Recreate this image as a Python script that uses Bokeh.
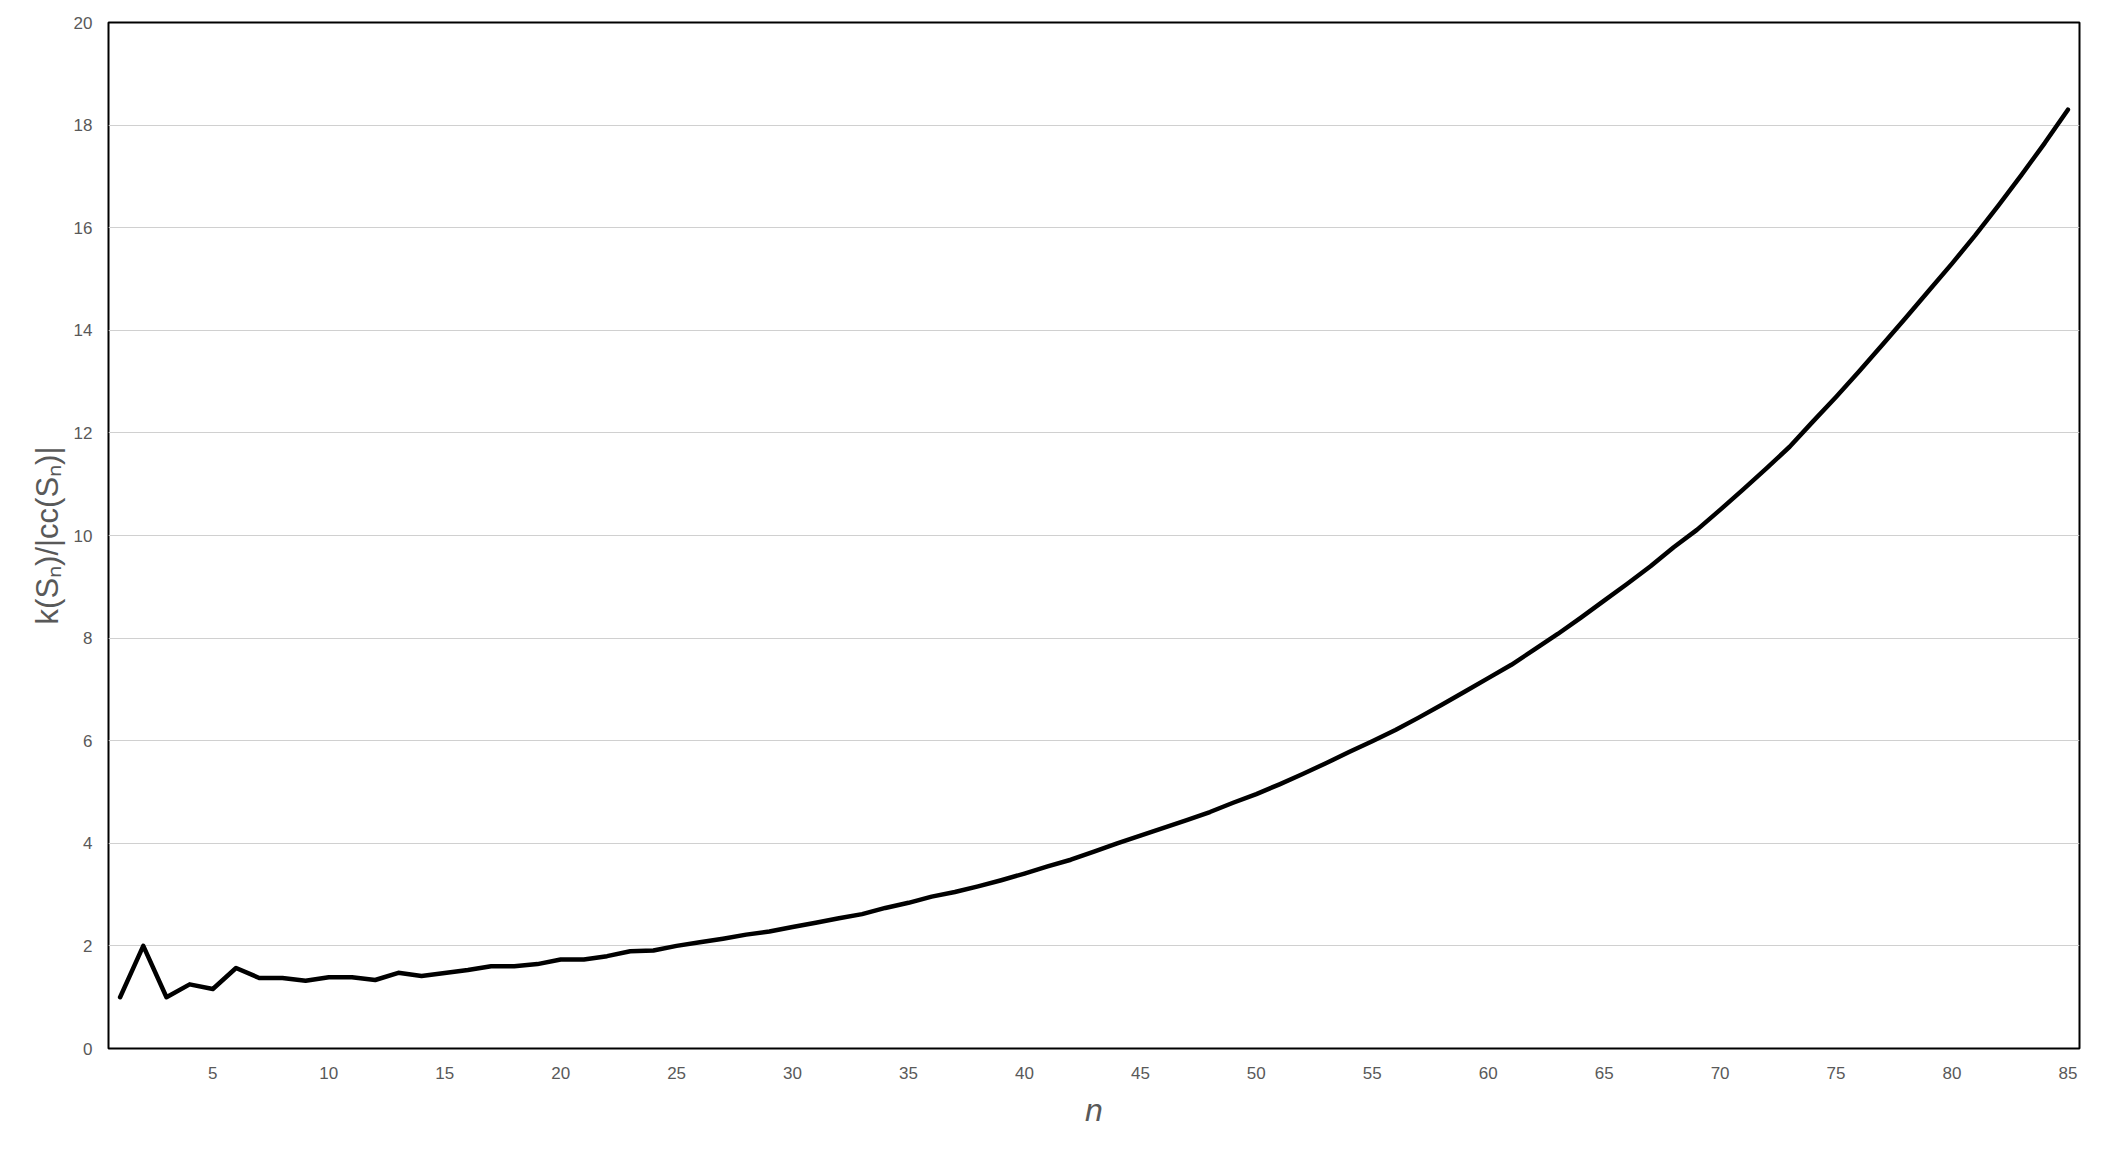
from bokeh.plotting import figure
from bokeh.models import FixedTicker, ColumnDataSource
from bokeh.embed import file_html
from bokeh.resources import INLINE

# n values (category positions 1..85)
n_values = list(range(1, 86))

# k(S_n)/|cc(S_n)|
ratio = [
    1.00, 2.00, 1.00, 1.25, 1.16, 1.57, 1.375, 1.375, 1.32, 1.39,
    1.39, 1.335, 1.475, 1.415, 1.47, 1.53, 1.605, 1.605, 1.645, 1.735,
    1.735, 1.80, 1.895, 1.91, 2.00, 2.07, 2.14, 2.22, 2.28, 2.37,
    2.45, 2.54, 2.62, 2.74, 2.84, 2.96, 3.05, 3.16, 3.28, 3.41,
    3.55, 3.68, 3.84, 4.00, 4.15, 4.30, 4.45, 4.61, 4.79, 4.96,
    5.15, 5.35, 5.56, 5.78, 5.99, 6.21, 6.45, 6.70, 6.96, 7.22,
    7.48, 7.78, 8.08, 8.40, 8.73, 9.06, 9.40, 9.77, 10.11, 10.50,
    10.90, 11.31, 11.73, 12.22, 12.70, 13.20, 13.72, 14.24, 14.77, 15.30,
    15.85, 16.43, 17.03, 17.65, 18.30,
]

x_ticks = [5, 10, 15, 20, 25, 30, 35, 40, 45, 50, 55, 60, 65, 70, 75, 80, 85]
y_ticks = [0, 2, 4, 6, 8, 10, 12, 14, 16, 18, 20]

source = ColumnDataSource(data=dict(n=n_values, r=ratio))

p = figure(
    width=2094, height=1148,
    x_range=(0.5, 85.5), y_range=(0, 20),
    output_backend="svg", toolbar_location=None,
    min_border_left=108, min_border_right=15,
    min_border_top=22, min_border_bottom=100,
)
p.background_fill_color = "white"
p.border_fill_color = "white"
p.outline_line_color = "black"
p.outline_line_width = 2

p.line("n", "r", source=source, line_color="black", line_width=4.5,
       line_join="round", line_cap="round")

tick_font = "Liberation Sans"
label_color = "#595959"

p.xaxis.ticker = FixedTicker(ticks=x_ticks)
p.yaxis.ticker = FixedTicker(ticks=y_ticks)
for ax in (p.xaxis, p.yaxis):
    ax.axis_line_color = None
    ax.major_tick_line_color = None
    ax.minor_tick_line_color = None
    ax.major_tick_out = 0
    ax.major_tick_in = 0
    ax.minor_tick_out = 0
    ax.major_label_text_font = tick_font
    ax.major_label_text_font_size = "17px"
    ax.major_label_text_color = label_color
    ax.axis_label_text_font = tick_font
    ax.axis_label_text_color = label_color

p.xaxis.major_label_standoff = 18
p.yaxis.major_label_standoff = 16

p.xaxis.axis_label = "n"
p.xaxis.axis_label_text_font_style = "italic"
p.xaxis.axis_label_text_font_size = "32px"
p.xaxis.axis_label_standoff = 10

p.yaxis.axis_label = "k(S\u2099)/|cc(S\u2099)|"
p.yaxis.axis_label_text_font_style = "normal"
p.yaxis.axis_label_text_font_size = "31px"
p.yaxis.axis_label_standoff = 6

p.xgrid.grid_line_color = None
p.ygrid.grid_line_color = "#d0d0d0"
p.ygrid.grid_line_width = 1

open("out.html", "w").write(file_html(p, INLINE))
